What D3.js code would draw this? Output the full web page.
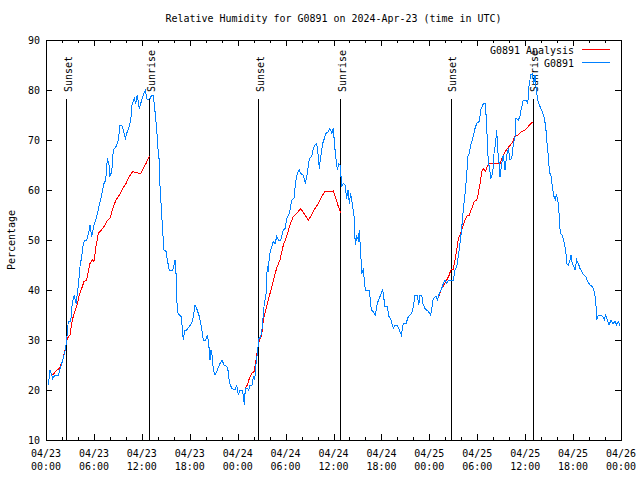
<!DOCTYPE html>
<html><head><meta charset="utf-8">
<script src="https://cdn.jsdelivr.net/npm/d3@7"></script>
<style>
html,body{margin:0;padding:0;background:#fff;}
text{font-family:"DejaVu Sans Mono",monospace;font-size:11px;fill:#000;}
</style></head>
<body><svg id="chart" width="640" height="480"></svg>
<script>
// ---- data (hours since 2024-04-23 00:00 UTC) ----
const titleText = "Relative Humidity for G0891 on 2024-Apr-23 (time in UTC)";
const yLabel = "Percentage";
const seriesNames = ["G0891 Analysis", "G0891"];
const yTicks = [10, 20, 30, 40, 50, 60, 70, 80, 90];
const sunsetHours = [2.54, 26.58, 50.68];
const sunriseHours = [12.94, 36.85, 60.95];

const obsHours = [0.29,0.50,0.84,1.13,1.54,1.97,2.38,2.59,2.79,3.09,3.29,3.54,3.76,4.04,4.26,4.47,4.67,4.88,5.10,5.42,5.51,5.72,6.01,6.35,6.67,6.97,7.26,7.48,7.68,7.89,8.01,8.23,8.43,8.77,9.05,9.27,9.48,9.68,9.93,10.18,10.43,10.61,10.77,11.06,11.23,11.43,11.68,11.93,12.18,12.43,12.68,13.02,13.24,13.44,13.65,13.86,13.99,14.15,14.28,14.49,14.61,14.78,15.03,15.19,15.44,15.87,16.03,16.15,16.28,16.44,16.69,16.94,17.12,17.19,17.37,17.62,17.94,18.24,18.44,18.66,18.87,19.20,19.45,19.70,20.00,20.20,20.37,20.54,20.66,20.82,20.95,21.16,21.45,21.79,22.04,22.29,22.63,22.83,22.95,23.25,23.67,23.88,24.08,24.29,24.54,24.71,24.83,24.96,25.21,25.38,25.54,25.80,25.96,26.13,26.30,26.46,26.67,26.89,27.09,27.30,27.55,27.71,27.84,27.96,28.14,28.46,28.68,28.89,29.09,29.39,29.72,29.93,30.14,30.47,30.77,31.05,31.27,31.47,31.72,31.89,32.22,32.47,32.72,32.97,33.27,33.47,33.68,33.90,34.10,34.22,34.40,34.65,34.85,35.06,35.35,35.56,35.78,35.98,36.15,36.31,36.48,36.65,36.81,36.94,37.06,37.23,37.44,37.65,37.82,37.98,38.15,38.40,38.57,38.73,38.91,39.11,39.23,39.41,39.53,39.73,39.98,40.48,40.73,40.98,41.23,41.48,41.82,42.16,42.45,42.74,42.95,43.20,43.49,43.70,43.99,44.24,44.49,44.74,45.08,45.37,45.79,45.99,46.21,46.49,46.67,46.83,47.05,47.17,47.46,47.87,48.17,48.50,48.84,49.00,49.25,49.55,49.75,49.96,50.18,50.38,50.68,51.00,51.21,51.43,51.63,51.84,52.05,52.25,52.47,52.68,52.80,53.00,53.18,53.43,53.72,53.93,54.26,54.43,54.68,54.84,55.01,55.10,55.26,55.39,55.51,55.69,55.94,56.10,56.26,56.44,56.56,56.69,56.85,57.06,57.26,57.48,57.69,57.89,58.10,58.31,58.51,58.73,58.85,59.14,59.35,59.48,59.77,60.07,60.32,60.48,60.69,60.89,61.07,61.23,61.39,61.57,61.86,62.15,62.40,62.57,62.74,62.90,63.03,63.24,63.40,63.61,63.77,63.90,64.07,64.24,64.40,64.65,64.90,65.08,65.20,65.40,65.61,65.74,65.90,66.08,66.24,66.45,66.65,66.87,67.08,67.33,67.58,67.83,68.12,68.41,68.66,68.83,68.96,69.16,69.50,69.71,69.91,70.08,70.28,70.50,70.75,71.00,71.25,71.46,71.66,71.91];
const obsValues = [21,24,22.3,23,23,25.3,27.7,30,33.7,33.7,37.3,39,37.3,40.7,44.7,46.7,49.3,50,50,52,53,50.7,53,54.7,57,59,61.3,62,66.3,65,62.7,63.7,68,68.7,70,73,73,72,70.3,71.7,72.7,74,77,78.3,77.3,79,76.3,77.7,79,80,78,78.3,79,79,75.7,72.3,68.7,66.3,60.7,55,51.7,48,47.7,46,44,44,45,46,43.3,35.7,35,34.7,31.3,30,32,32,32.7,33.3,34.7,37,36.3,34.7,32.7,30,30,31,29.3,26,28,26.7,24,23,24,25.3,26,25,24.7,23.7,21.7,20.3,20,21,19,20,20,19,17,20.3,20.3,20,21,21,22.7,22,25.3,27.3,30.3,30.7,32.7,36.7,39.3,44.7,43.7,46.7,48,49.7,49.3,50.7,50,50,52,52.3,54.3,55.3,58,58.3,61.7,63.3,64,63.3,63,61.3,63.3,66.3,66.7,68.3,69,69.3,66.7,64.3,66.7,69.3,70.3,71.3,71.7,72.3,71.3,72.3,68.7,66.3,64,65.3,65,62.7,60.7,61.3,61,58.3,60,57.3,59.3,56.7,54.7,49,50.7,50,52,47.3,43.3,44,40,40,36,35.7,35,37.3,38.7,40,36.7,36.7,34.7,34,32.3,33,33,32,31,33.3,33.3,34.7,35.3,36.7,39,39,37,39,39,37.3,36.3,35.7,35,38.3,38.7,38,39.3,40.3,41.3,42,41.3,42,42,42,44,44.7,46.7,49.3,52.3,56,59.3,62.7,66.7,67.3,69,70.3,72.3,73.3,73.7,76,77,77.3,77.3,75,70,65.3,64.7,62.3,63.3,67.3,69,72,68,66.3,62.7,65.3,67,64,67,68.3,66,66.3,69,70.7,74.3,74,74.7,76,78,78,77.3,80.7,83,83.3,81.3,83,80,78,76.7,75.7,74.3,72.7,69.3,66.7,63.7,62.7,60.7,58.7,58,59,58.3,55.3,51.3,51,49.3,48,45.3,45,46,47,45.3,44.7,44,46,45.3,44.3,43.7,43,42.7,41.7,41,40.7,39.7,38,34,35,35,34.7,34,35,34,33,34,33.3,33.7,33,33.7,32.7];

// analysis series; null separates the three analysis windows
const anaHours = [0.84,1.34,1.67,2.09,2.38,2.67,3.01,3.29,3.54,3.84,4.17,4.47,4.76,5.10,5.30,5.51,5.80,6.01,6.26,6.55,6.76,7.10,7.39,7.73,8.01,8.35,8.77,9.18,9.60,10.02,10.43,10.86,11.27,11.86,12.18,12.52,12.94,
  12.95,
  24.92,25.21,25.46,25.76,26.05,26.30,26.51,26.71,27.01,27.21,27.42,27.64,27.84,28.05,28.39,28.68,28.96,29.30,29.72,30.14,30.55,30.97,31.39,31.89,32.31,32.85,33.27,33.68,34.10,34.52,34.94,35.47,35.98,36.31,36.60,36.90,
  36.91,
  49.00,49.25,49.55,49.84,50.18,50.50,50.68,51.00,51.21,51.43,51.63,51.93,52.18,52.47,52.76,53.00,53.31,53.60,53.93,54.13,54.35,54.56,54.76,55.01,55.26,55.51,56.01,56.85,57.19,57.51,57.89,58.31,58.73,59.14,59.57,59.98,60.39,60.73,61.02];
const anaValues = [23,24,24.3,26,28,30.3,31,34,35.3,36.7,39,40.3,41.7,42,43.7,45.3,46,45.7,48.7,51.3,51.7,52.3,53,54,54.3,56.3,58,59,60.3,61.3,62.7,63.7,63.5,63.3,64.3,65.3,66.8,
  null,
  20.3,21,22.3,23.3,23.7,26,28.3,30,31,34,35.3,36.7,38,39.3,41.3,43.3,44.7,46,49,50.7,53,54.7,55.3,56.3,55.3,54,55,56.3,57.3,58.7,59.7,59.7,59.8,58.3,56.7,55.5,
  null,
  38,39,40.3,41,42,43,44,44.1,46,48,50.3,51.3,52.7,54,55,55,56.3,57.7,58,59.3,61.3,63.7,64.3,63.7,64.7,65.3,65.3,65.3,66.7,67.7,68.5,69.3,70.7,71,71.7,72,72.7,73.3,73.7];

// ---- chart ----
const base = Date.UTC(2024, 3, 23);
const toDate = h => new Date(base + h * 3600e3);
const t0 = new Date(base), t1 = new Date(base + 72 * 3600e3);
const colors = ["#ff0000", "#0080ff"];
const CW = 6; // char advance

const svg = d3.select("#chart");
const L = 46, R = 621, T = 40, B = 440;
const x = d3.scaleUtc().domain([t0, t1]).range([L, R]);
const y = d3.scaleLinear().domain([10, 90]).range([B, T]);

const majorT = d3.utcHour.every(6).range(t0, new Date(+t1 + 1));
const minorT = d3.utcHour.every(2).range(t0, new Date(+t1 + 1)).filter(d => d.getUTCHours() % 6 !== 0);

function ticks(axis, tr) {
  const g = svg.append("g").attr("transform", tr).call(axis);
  g.select(".domain").remove();
  g.selectAll("line").attr("stroke", "#000").attr("shape-rendering", "crispEdges");
  return g;
}
ticks(d3.axisBottom(x).tickValues(majorT).tickSizeInner(-6).tickSizeOuter(0).tickFormat(""), `translate(0,${B})`);
ticks(d3.axisBottom(x).tickValues(minorT).tickSizeInner(-3).tickSizeOuter(0).tickFormat(""), `translate(0,${B})`);
ticks(d3.axisTop(x).tickValues(majorT).tickSizeInner(-6).tickSizeOuter(0).tickFormat(""), `translate(0,${T})`);
ticks(d3.axisTop(x).tickValues(minorT).tickSizeInner(-3).tickSizeOuter(0).tickFormat(""), `translate(0,${T})`);
const gy = ticks(d3.axisLeft(y).tickValues(yTicks).tickSizeInner(-6).tickSizeOuter(0).tickPadding(6), `translate(${L},0)`);
gy.attr("font-size", null).attr("font-family", null);
gy.selectAll("text").attr("dy", "0.36em");
ticks(d3.axisRight(y).tickValues(yTicks).tickSizeInner(-6).tickSizeOuter(0).tickFormat(""), `translate(${R},0)`);

// x labels (two lines)
const fmtD = d3.utcFormat("%m/%d"), fmtT = d3.utcFormat("%H:%M");
const xl = svg.append("g").selectAll("g").data(majorT).join("g");
xl.append("text").attr("x", d => x(d)).attr("y", 457).attr("text-anchor", "middle").text(fmtD);
xl.append("text").attr("x", d => x(d)).attr("y", 470).attr("text-anchor", "middle").text(fmtT);

// frame
svg.append("rect").attr("x", L).attr("y", T).attr("width", R - L).attr("height", B - T)
  .attr("fill", "none").attr("stroke", "#000").attr("shape-rendering", "crispEdges");

// title and y label
svg.append("text").attr("x", (L + R) / 2).attr("y", 22).attr("text-anchor", "middle").text(titleText);
svg.append("text").attr("transform", `translate(15,${(T + B) / 2}) rotate(-90)`).attr("text-anchor", "middle").text(yLabel);

// sunrise / sunset markers
const sunEvents = sunsetHours.map(h => ({h, label: "Sunset"})).concat(sunriseHours.map(h => ({h, label: "Sunrise"})));
const se = svg.append("g").selectAll("g").data(sunEvents).join("g");
se.append("line").attr("x1", d => Math.round(x(toDate(d.h))) + 0.5).attr("x2", d => Math.round(x(toDate(d.h))) + 0.5)
  .attr("y1", y(78.2)).attr("y2", B).attr("stroke", "#000");
se.append("text").attr("transform", d => `translate(${x(toDate(d.h)) + 5.5},92) rotate(-90)`).text(d => d.label);

// data lines
const line = d3.line().defined(d => d.v != null).x(d => x(d.t)).y(d => y(d.v));
const ana = anaHours.map((h, i) => ({t: toDate(h), v: anaValues[i]}));
const obs = obsHours.map((h, i) => ({t: toDate(h), v: obsValues[i]}));
svg.append("path").datum(ana).attr("d", line).attr("fill", "none").attr("stroke", colors[0]).attr("stroke-width", 1).attr("shape-rendering", "crispEdges");
svg.append("path").datum(obs).attr("d", line).attr("fill", "none").attr("stroke", colors[1]).attr("stroke-width", 1).attr("shape-rendering", "crispEdges");

// legend
const lg = svg.append("g").selectAll("g").data(seriesNames).join("g");
lg.append("text").attr("x", 574).attr("y", (d, i) => 53.5 + i * 13).attr("text-anchor", "end").text(d => d);
lg.append("line").attr("x1", 582).attr("x2", 610).attr("y1", (d, i) => 49.5 + i * 13).attr("y2", (d, i) => 49.5 + i * 13)
  .attr("stroke", (d, i) => colors[i]);

// fix text widths to the monospace advance of the reference
svg.selectAll("text").each(function() {
  const s = d3.select(this).text();
  d3.select(this).attr("textLength", s.length * CW).attr("lengthAdjust", "spacingAndGlyphs");
});
</script></body></html>
